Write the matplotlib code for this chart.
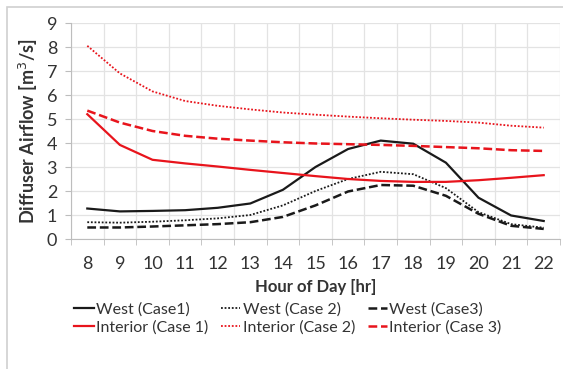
import matplotlib.pyplot as plt
from matplotlib.patches import Rectangle

plt.rcParams['font.family'] = ['Lato', 'DejaVu Sans']

hours = [8, 9, 10, 11, 12, 13, 14, 15, 16, 17, 18, 19, 20, 21, 22]

west_case1 = [1.27, 1.15, 1.17, 1.2, 1.3, 1.48, 2.05, 3.0, 3.75, 4.1, 3.97, 3.18, 1.72, 0.98, 0.75]
west_case2 = [0.7, 0.68, 0.72, 0.78, 0.86, 1.0, 1.4, 2.0, 2.5, 2.8, 2.7, 2.12, 1.12, 0.62, 0.47]
west_case3 = [0.48, 0.48, 0.52, 0.57, 0.62, 0.7, 0.92, 1.4, 1.98, 2.25, 2.22, 1.8, 1.05, 0.55, 0.42]
interior_case1 = [5.2, 3.92, 3.3, 3.15, 3.02, 2.88, 2.75, 2.62, 2.5, 2.42, 2.38, 2.38, 2.45, 2.55, 2.66]
interior_case2 = [8.05, 6.9, 6.15, 5.75, 5.55, 5.4, 5.27, 5.18, 5.1, 5.03, 4.97, 4.92, 4.85, 4.72, 4.64]
interior_case3 = [5.35, 4.85, 4.5, 4.3, 4.18, 4.1, 4.03, 3.98, 3.95, 3.92, 3.88, 3.83, 3.78, 3.7, 3.67]

labels = ["West (Case1)", "West (Case 2)", "West (Case3)",
          "Interior (Case 1)", "Interior (Case 2)", "Interior (Case 3)"]


def main():
    fig = plt.figure(figsize=(5.63, 3.69), dpi=100)
    ax = fig.add_axes([71 / 563, 1 - 239 / 369, 489 / 563, 216 / 369])

    # outer chart border (Excel style)
    fig.patches.append(Rectangle((7 / 563, -0.1), 1.2, 1 - 7 / 369 + 0.1,
                                 transform=fig.transFigure, fill=False,
                                 edgecolor='#d0d0d0', lw=1.2))

    x = list(range(len(hours)))
    dot = (0, (1, 1))
    dash = (0, (3.5, 1.5))
    l1, = ax.plot(x, west_case1, color='#1a1a1a', lw=1.6, ls='-')
    l2, = ax.plot(x, west_case2, color='#1a1a1a', lw=1.3, ls=dot)
    l3, = ax.plot(x, west_case3, color='#1a1a1a', lw=1.8, ls=dash)
    l4, = ax.plot(x, interior_case1, color='#e8141c', lw=1.6, ls='-')
    l5, = ax.plot(x, interior_case2, color='#e8141c', lw=1.3, ls=dot)
    l6, = ax.plot(x, interior_case3, color='#e8141c', lw=1.8, ls=dash)

    ax.set_xlim(-0.5, len(hours) - 0.5)
    ax.set_ylim(0, 9)
    ax.set_yticks(range(0, 10))
    ax.set_xticks(x)
    ax.set_xticklabels([str(h) for h in hours])
    ax.set_xticks([i - 0.5 for i in range(len(hours) + 1)], minor=True)

    ax.grid(True, axis='y', color='#e3e3e3', lw=0.9)
    ax.grid(True, axis='x', which='minor', color='#e3e3e3', lw=0.9)
    ax.set_axisbelow(True)
    for s in ['top', 'right']:
        ax.spines[s].set_visible(False)
    ax.spines['left'].set_color('#bdbdbd')
    ax.spines['bottom'].set_color('#bdbdbd')
    ax.tick_params(axis='x', which='major', length=0, labelsize=13, pad=12,
                   labelcolor='#333333')
    ax.tick_params(axis='x', which='minor', length=4, color='#bdbdbd')
    ax.tick_params(axis='y', length=4, color='#bdbdbd', labelsize=13,
                   labelcolor='#333333', pad=6)

    ax.set_ylabel("Diffuser Airflow [m$^3$/s]", fontsize=13, fontweight='bold',
                  color='#333333', labelpad=5)
    ax.set_xlabel("Hour of Day [hr]", fontsize=12, fontweight='bold',
                  color='#333333', labelpad=5)

    handles = [l1, l4, l2, l5, l3, l6]
    leg_labels = [labels[0], labels[3], labels[1], labels[4], labels[2], labels[5]]
    fig.legend(handles, leg_labels, ncol=3, loc='upper center',
               bbox_to_anchor=(288 / 563, 1 - 291 / 369), frameon=False,
               fontsize=11.5, handlelength=1.2, handletextpad=0.15,
               columnspacing=0.8, labelspacing=0.25, labelcolor='#333333',
               borderpad=0.2)

    fig.savefig("out.png", dpi=100)


if __name__ == "__main__":
    main()
